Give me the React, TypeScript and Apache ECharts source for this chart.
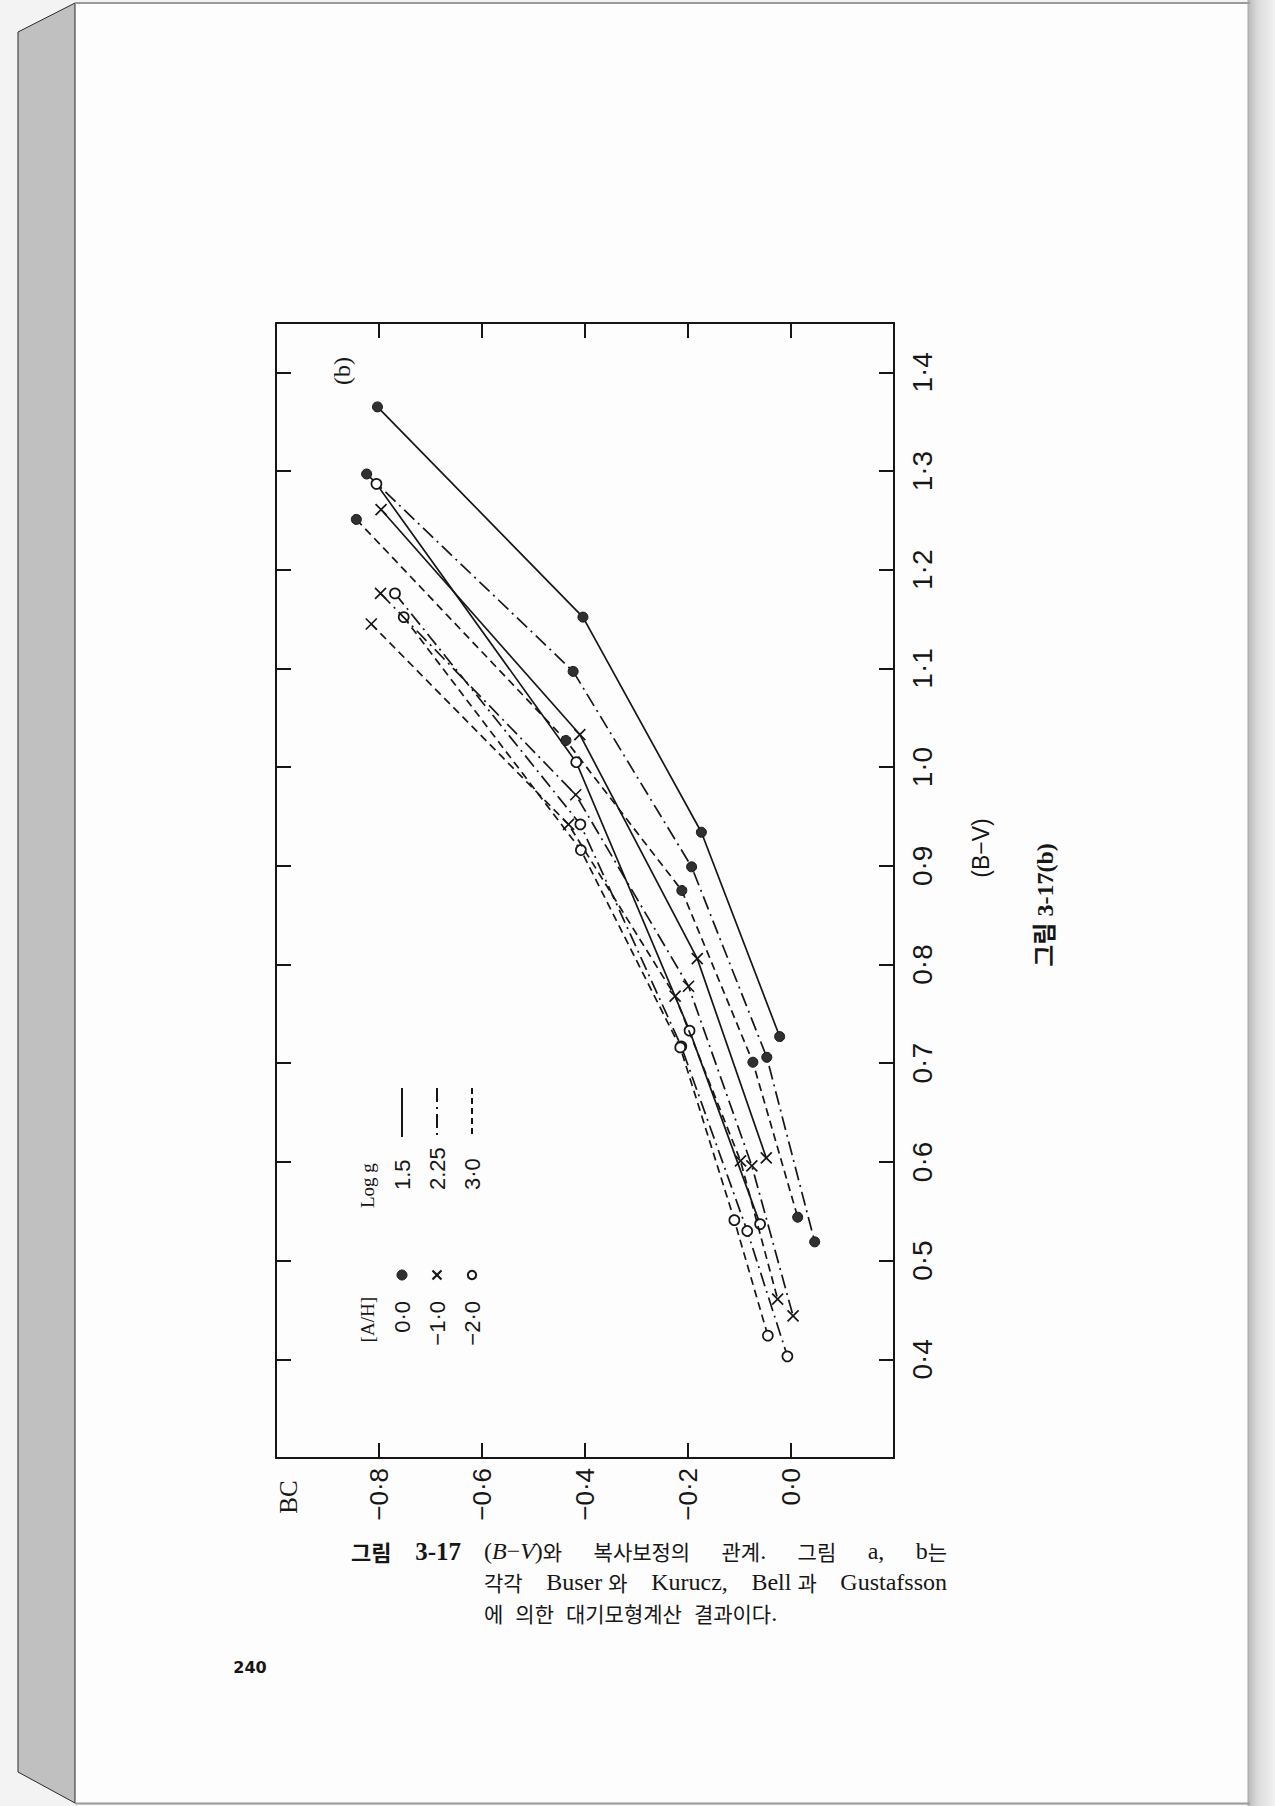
import React, { useEffect, useRef } from 'react';
import * as echarts from 'echarts';

// ---- Data: [BC, (B−V)] ----
// [A/H] = 0.0 (filled dots)
const fSolid = [[-0.803, 1.365], [-0.404, 1.152], [-0.174, 0.934], [-0.022, 0.727]];
const fDashDot = [[-0.824, 1.297], [-0.423, 1.097], [-0.193, 0.899], [-0.047, 0.706], [0.046, 0.519]];
const fDashed = [[-0.844, 1.251], [-0.437, 1.027], [-0.212, 0.875], [-0.074, 0.701], [0.013, 0.544]];
// [A/H] = -1.0 (crosses)
const xSolid = [[-0.796, 1.261], [-0.410, 1.033], [-0.182, 0.806], [-0.048, 0.604]];
const xDashDot = [[-0.797, 1.176], [-0.418, 0.972], [-0.199, 0.778], [-0.076, 0.596], [0.004, 0.444]];
const xDashed = [[-0.815, 1.145], [-0.432, 0.942], [-0.225, 0.768], [-0.098, 0.601], [-0.026, 0.461]];
// [A/H] = -2.0 (open circles)
const oSolid = [[-0.805, 1.287], [-0.417, 1.005], [-0.197, 0.733], [-0.060, 0.537]];
const oDashDot = [[-0.769, 1.176], [-0.409, 0.942], [-0.213, 0.717], [-0.085, 0.530], [-0.007, 0.403]];
const oDashed = [[-0.752, 1.152], [-0.408, 0.916], [-0.215, 0.716], [-0.110, 0.541], [-0.045, 0.424]];

const bcTicks = [-0.8, -0.6, -0.4, -0.2, 0.0];
const bvTicks = [0.4, 0.5, 0.6, 0.7, 0.8, 0.9, 1.0, 1.1, 1.2, 1.3, 1.4];
const abundanceLabels = ['0·0', '−1·0', '−2·0'];
const loggLabels = ['1.5', '2.25', '3·0'];

// caption (words; runs between * are italic)
const captionLine1 = ['(*B*−*V*)와', '복사보정의', '관계.', '그림', 'a,', 'b는'];
const captionLine2 = ['각각', 'Buser 와', 'Kurucz,', 'Bell 과', 'Gustafsson'];
const captionLine3 = ['에', '의한', '대기모형계산', '결과이다.'];

const W = 1275;
const H = 1806;
const INK = '#161616';
const DASH_DOT = [14, 5, 2, 5];
const DASHED = [8, 5];
const CROSS = 'path://M0,0L10,10M10,0L0,10';
const SERIF = "'Liberation Serif', 'Noto Sans CJK KR', serif";
const SANS = "'Liberation Sans', Arial, sans-serif";
const KFONT = "'Noto Sans CJK KR', sans-serif";
const LFONT = "'Liberation Serif', serif";
const KSIZE = 21;
const LSIZE = 24;
const CAP_LH = 24;

const fmtNum = (v: number) => {
  const r = Math.round(v * 10) / 10;
  const s = Math.abs(r).toFixed(1).replace('.', '·');
  return r < 0 ? '−' + s : s;
};
const inList = (list: number[], v: number) => list.some((t) => Math.abs(t - v) < 1e-6);

type Marker = 'filled' | 'cross' | 'open';
function makeSeries(name: string, data: number[][], dash: 'solid' | number[], marker: Marker) {
  const itemStyle =
    marker === 'filled'
      ? { color: '#303030', borderColor: INK, borderWidth: 1 }
      : marker === 'open'
      ? { color: '#ffffff', borderColor: INK, borderWidth: 1.7 }
      : { color: 'rgba(0,0,0,0)', borderColor: INK, borderWidth: 1.7 };
  return {
    name,
    type: 'line',
    data,
    xAxisIndex: 0,
    yAxisIndex: 0,
    silent: true,
    symbol: marker === 'cross' ? CROSS : 'circle',
    symbolSize: marker === 'cross' ? 11 : 10,
    showSymbol: true,
    lineStyle: { color: INK, width: 1.7, type: dash },
    itemStyle,
    z: marker === 'cross' ? 4 : 3,
  };
}

const axisLine = { show: true, onZero: false, lineStyle: { color: INK, width: 2 } };
const axisTick = { show: true, inside: true, length: 15, lineStyle: { color: INK, width: 2 } };

function rotText(x: number, y: number, text: string, fontSize: number, align: string, extra: any = {}) {
  return {
    type: 'text',
    x,
    y,
    rotation: Math.PI / 2,
    z: 10,
    style: {
      text,
      fontSize,
      fontFamily: extra.fontFamily || SANS,
      fontWeight: extra.fontWeight || 'normal',
      fill: INK,
      align,
      textAlign: align,
      verticalAlign: 'middle',
      textVerticalAlign: 'middle',
    },
  };
}

function plainText(x: number, y: number, text: string, fontSize: number, extra: any = {}) {
  return {
    type: 'text',
    x,
    y,
    z: 10,
    style: {
      text,
      fontSize,
      fontFamily: extra.fontFamily || SERIF,
      fontWeight: extra.fontWeight || 'normal',
      fontStyle: extra.fontStyle || 'normal',
      fill: INK,
      align: extra.align || 'left',
      textAlign: extra.align || 'left',
      verticalAlign: 'middle',
      textVerticalAlign: 'middle',
      lineHeight: extra.lineHeight,
      rich: extra.rich,
    },
  };
}

// --- caption layout helpers (words measured with canvas) ---
let measureCtx: CanvasRenderingContext2D | null = null;
function measure(text: string, size: number, family: string, italic: boolean) {
  if (!measureCtx) measureCtx = document.createElement('canvas').getContext('2d');
  if (!measureCtx) return text.length * size * 0.6;
  measureCtx.font = `${italic ? 'italic ' : ''}${size}px ${family}`;
  return measureCtx.measureText(text).width;
}
type Run = { t: string; italic: boolean; korean: boolean };
function splitRuns(word: string): Run[] {
  const runs: Run[] = [];
  word.split('*').forEach((p, pi) => {
    const italic = pi % 2 === 1;
    let cur = '';
    let curK: boolean | null = null;
    for (const ch of p) {
      const k = /[\uac00-\ud7a3]/.test(ch);
      if (curK === null || k === curK) {
        cur += ch;
        curK = k;
      } else {
        runs.push({ t: cur, italic, korean: !!curK });
        cur = ch;
        curK = k;
      }
    }
    if (cur) runs.push({ t: cur, italic, korean: !!curK });
  });
  return runs;
}
function runWidth(r: Run) {
  return r.korean ? measure(r.t, KSIZE, KFONT, false) : measure(r.t, LSIZE, LFONT, r.italic);
}
const captionRich = {
  k: { fontFamily: KFONT, fontSize: KSIZE, fill: INK, lineHeight: CAP_LH },
  l: { fontFamily: LFONT, fontSize: LSIZE, fill: INK, lineHeight: CAP_LH },
  li: { fontFamily: LFONT, fontSize: LSIZE, fontStyle: 'italic', fill: INK, lineHeight: CAP_LH },
};
// x1 = right edge for justified lines; fixedGap = natural spacing instead
function layoutLine(words: string[], x0: number, x1: number | null, y: number, fixedGap = 10) {
  const wordRuns = words.map(splitRuns);
  const widths = wordRuns.map((rs) => rs.reduce((s, r) => s + runWidth(r), 0));
  const total = widths.reduce((a, b) => a + b, 0);
  const gap = x1 !== null && words.length > 1 ? (x1 - x0 - total) / (words.length - 1) : fixedGap;
  const els: any[] = [];
  let x = x0;
  wordRuns.forEach((rs, wi) => {
    const rich = rs.map((r) => `{${r.korean ? 'k' : r.italic ? 'li' : 'l'}|${r.t}}`).join('');
    els.push(plainText(x, y, rich, LSIZE, { fontFamily: LFONT, rich: captionRich, lineHeight: CAP_LH }));
    x += widths[wi] + gap;
  });
  return els;
}

function buildOption() {
  const legendX = [402, 437, 472];
  const legendGraphics: any[] = [];
  legendGraphics.push(rotText(367, 1297, '[A/H]', 19, 'right', { fontFamily: LFONT }));
  legendGraphics.push(rotText(367, 1208, 'Log g', 19, 'left', { fontFamily: LFONT }));
  abundanceLabels.forEach((t, i) => {
    legendGraphics.push(rotText(legendX[i], 1301, t, 22, 'right'));
  });
  loggLabels.forEach((t, i) => {
    legendGraphics.push(rotText(legendX[i], 1190, t, 22, 'left'));
  });
  legendGraphics.push({
    type: 'circle', z: 10, shape: { cx: legendX[0], cy: 1275, r: 5 },
    style: { fill: '#303030', stroke: INK, lineWidth: 1 },
  });
  legendGraphics.push({
    type: 'line', z: 10, shape: { x1: legendX[1] - 4.5, y1: 1270.5, x2: legendX[1] + 4.5, y2: 1279.5 },
    style: { stroke: INK, lineWidth: 2.2 },
  });
  legendGraphics.push({
    type: 'line', z: 10, shape: { x1: legendX[1] + 4.5, y1: 1270.5, x2: legendX[1] - 4.5, y2: 1279.5 },
    style: { stroke: INK, lineWidth: 2.2 },
  });
  legendGraphics.push({
    type: 'circle', z: 10, shape: { cx: legendX[2], cy: 1275, r: 4.2 },
    style: { fill: '#fff', stroke: INK, lineWidth: 2 },
  });
  const dashes: any[] = [null, DASH_DOT, [6, 4]];
  dashes.forEach((d, i) => {
    legendGraphics.push({
      type: 'line', z: 10,
      shape: { x1: legendX[i], y1: 1088, x2: legendX[i], y2: 1137 },
      style: { stroke: INK, lineWidth: 2, lineDash: d || undefined },
    });
  });

  const frame: any[] = [
    { type: 'rect', z: -5, shape: { x: 0, y: 0, width: 75, height: H }, style: { fill: '#f3f3f3' } },
    { type: 'rect', z: -5, shape: { x: 0, y: 0, width: W, height: 3 }, style: { fill: '#f3f3f3' } },
    { type: 'rect', z: -5, shape: { x: 0, y: 1804, width: W, height: 2 }, style: { fill: '#f3f3f3' } },
    {
      type: 'polygon', z: -4,
      shape: { points: [[18, 32], [75, 3], [75, 1803], [18, 1772]] },
      style: { fill: '#c0c0c0', stroke: '#2a2a2a', lineWidth: 1 },
    },
    { type: 'line', z: -3, shape: { x1: 75, y1: 3, x2: 1250, y2: 3 }, style: { stroke: '#9a9a9a', lineWidth: 2 } },
    { type: 'line', z: -3, shape: { x1: 75, y1: 1803.5, x2: 1250, y2: 1803.5 }, style: { stroke: '#9a9a9a', lineWidth: 2 } },
    {
      type: 'rect', z: -4, shape: { x: 1248, y: 0, width: 27, height: H },
      style: {
        fill: new echarts.graphic.LinearGradient(0, 0, 1, 0, [
          { offset: 0, color: '#b9b9b9' },
          { offset: 0.35, color: '#dadada' },
          { offset: 1, color: '#f2f2f2' },
        ]),
      },
    },
    { type: 'line', z: -3, shape: { x1: 1248, y1: 0, x2: 1248, y2: H }, style: { stroke: '#a8a8a8', lineWidth: 1 } },
  ];

  const texts: any[] = [
    rotText(342, 371, '(b)', 24, 'center', { fontFamily: LFONT }),
    rotText(288, 1497, 'BC', 25, 'center', { fontFamily: LFONT }),
    rotText(981, 848, '(B−V)', 23, 'center'),
    rotText(1045, 905, '그림 3-17(b)', 24, 'center', { fontFamily: SERIF, fontWeight: 'bold' }),
    plainText(351, 1551, '그림', KSIZE + 1, { fontFamily: KFONT, fontWeight: 'bold' }),
    plainText(461, 1551, '3-17', 25, { fontFamily: LFONT, fontWeight: 'bold', align: 'right' }),
    ...layoutLine(captionLine1, 484, 947, 1551),
    ...layoutLine(captionLine2, 484, 947, 1582),
    ...layoutLine(captionLine3, 484, null, 1613, 12),
    plainText(250, 1667, '240', 16, { fontFamily: "'DejaVu Sans', sans-serif", fontWeight: 'bold', align: 'center' }),
  ];

  return {
    animation: false,
    backgroundColor: '#fdfdfd',
    grid: { left: 276, top: 323, width: 618, height: 1135, containLabel: false },
    xAxis: [
      {
        type: 'value', position: 'bottom', min: -1.0, max: 0.2, interval: 0.2,
        axisLine, axisTick,
        axisLabel: {
          show: true, rotate: 90, margin: 10, fontSize: 26, color: INK, fontFamily: SANS,
          formatter: (v: number) => (inList(bcTicks, v) ? fmtNum(v) : ''),
        },
        splitLine: { show: false },
      },
      {
        type: 'value', position: 'top', min: -1.0, max: 0.2, interval: 0.2,
        axisLine, axisTick, axisLabel: { show: false }, splitLine: { show: false },
      },
    ],
    yAxis: [
      {
        type: 'value', position: 'left', min: 0.3, max: 1.45, interval: 0.1,
        axisLine, axisTick, axisLabel: { show: false }, splitLine: { show: false },
      },
      {
        type: 'value', position: 'right', min: 0.3, max: 1.45, interval: 0.1,
        axisLine, axisTick,
        axisLabel: {
          show: true, rotate: 90, margin: 14, fontSize: 28, color: INK, fontFamily: SANS,
          formatter: (v: number) => (inList(bvTicks, Math.round(v * 100) / 100) ? fmtNum(v) : ''),
        },
        splitLine: { show: false },
      },
    ],
    graphic: { elements: [...frame, ...texts, ...legendGraphics] },
    series: [
      makeSeries('0.0 / 1.5', fSolid, 'solid', 'filled'),
      makeSeries('0.0 / 2.25', fDashDot, DASH_DOT, 'filled'),
      makeSeries('0.0 / 3.0', fDashed, DASHED, 'filled'),
      makeSeries('-1.0 / 1.5', xSolid, 'solid', 'cross'),
      makeSeries('-1.0 / 2.25', xDashDot, DASH_DOT, 'cross'),
      makeSeries('-1.0 / 3.0', xDashed, DASHED, 'cross'),
      makeSeries('-2.0 / 1.5', oSolid, 'solid', 'open'),
      makeSeries('-2.0 / 2.25', oDashDot, DASH_DOT, 'open'),
      makeSeries('-2.0 / 3.0', oDashed, DASHED, 'open'),
    ],
  };
}

export default function App() {
  const ref = useRef<HTMLDivElement>(null);
  useEffect(() => {
    if (!ref.current) return;
    const chart = echarts.init(ref.current, undefined, { renderer: 'svg', width: W, height: H });
    chart.setOption(buildOption() as any);
    return () => chart.dispose();
  }, []);
  return (
    <div
      ref={ref}
      style={{ position: 'fixed', left: 0, top: 0, width: W, height: H, background: '#fdfdfd' }}
    />
  );
}
